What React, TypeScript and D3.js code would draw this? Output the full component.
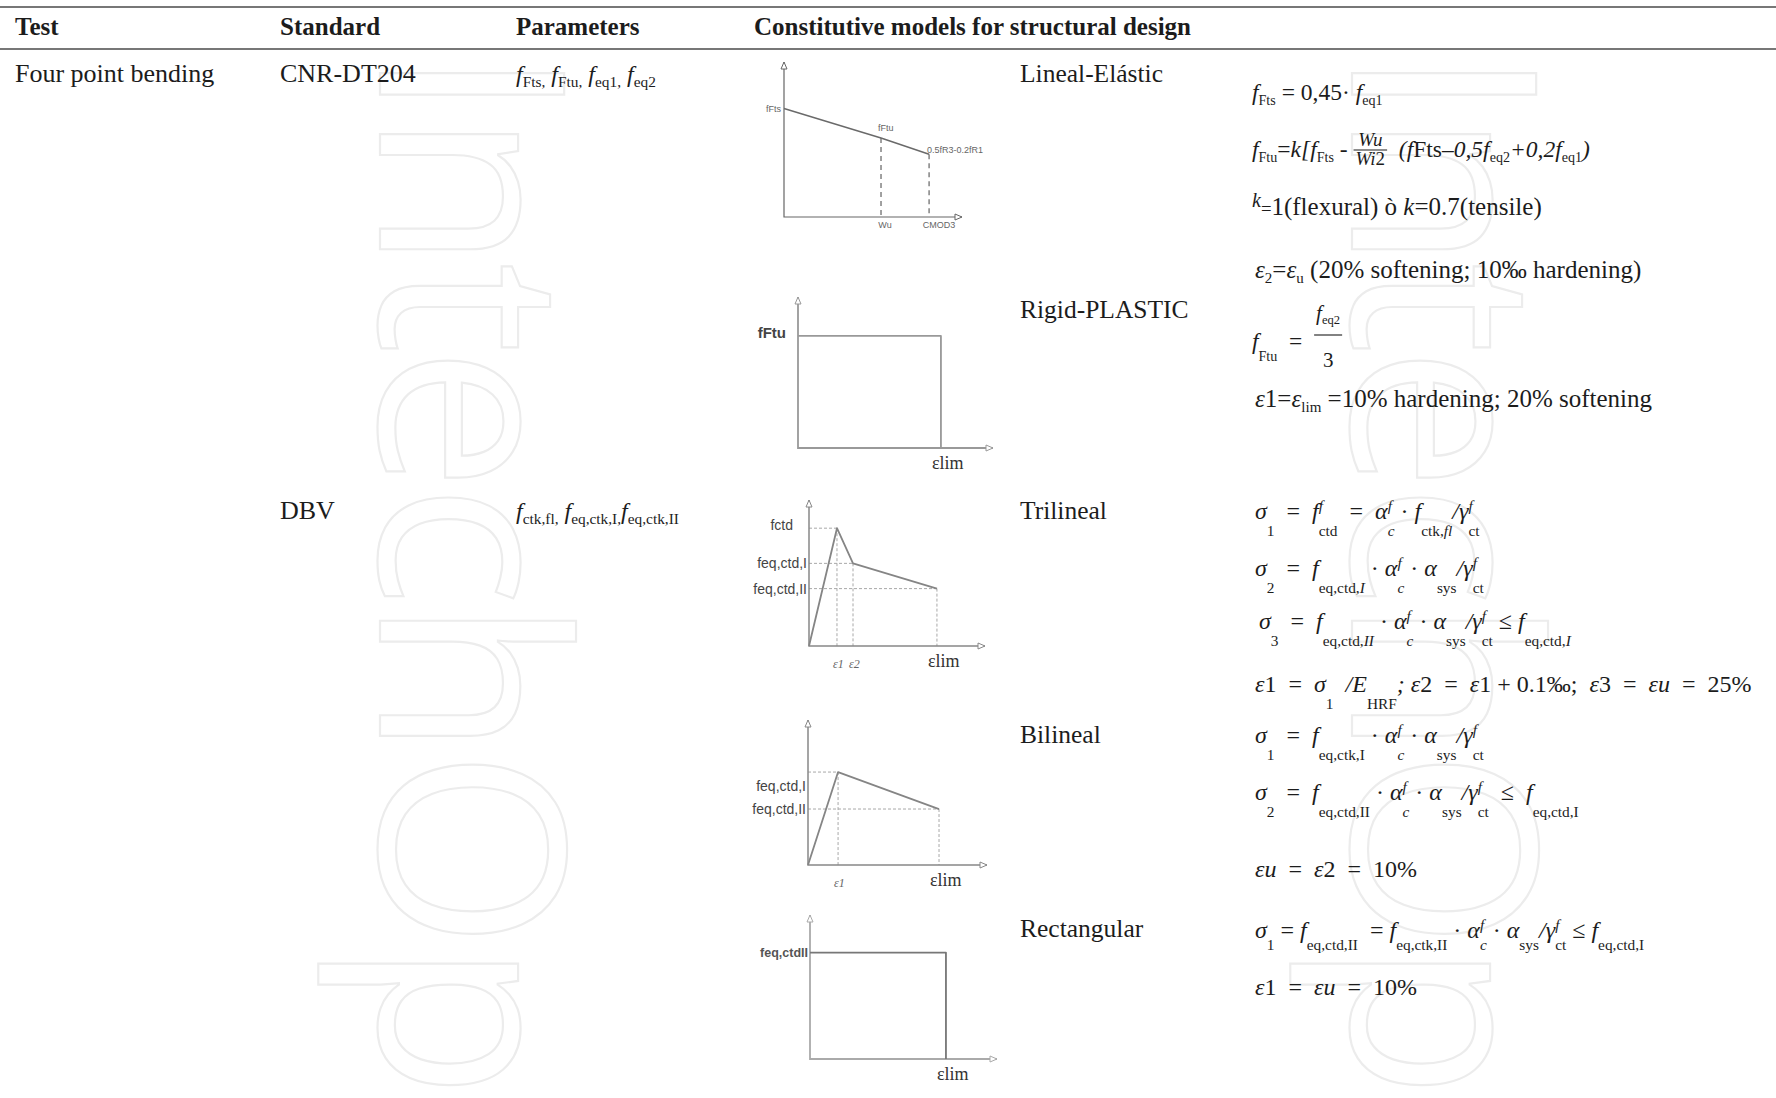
import { useEffect, useRef } from "react";
import * as d3 from "d3";

const WIDTH = 1776;
const HEIGHT = 1098;
const SERIF = "'Liberation Serif', 'Times New Roman', serif";
const SANS = "'Liberation Sans', Arial, sans-serif";
const INK = "#1c1c1c";

type Tok =
  | string
  | { i: string }
  | { sub: string; it?: boolean }
  | { sup: string; sub?: string; subIt?: boolean }
  | { frac: [Tok[], Tok[]] }
  | { small: string }
  | { raised: string }
  | { gap: number };

// ---- table text ----
const headers = ["Test", "Standard", "Parameters", "Constitutive models for structural design"];
const headerX = [15, 280, 516, 754];
const tests = ["Four point bending"];
const standards = ["CNR-DT204", "DBV"];
const rowY = [82, 519];
const modelNames = ["Lineal-Elástic", "Rigid-PLASTIC", "Trilineal", "Bilineal", "Rectangular"];
const modelY = [82, 318, 519, 743, 937];

const paramsCNR: Tok[] = [
  { i: "f" }, { sub: "Fts," }, " ", { i: "f" }, { sub: "Ftu," }, " ",
  { i: "f" }, { sub: "eq1," }, " ", { i: "f" }, { sub: "eq2" },
];
const paramsDBV: Tok[] = [
  { i: "f" }, { sub: "ctk,fl," }, " ", { i: "f" }, { sub: "eq,ctk,I," }, { i: "f" }, { sub: "eq,ctk,II" },
];

// ---- constitutive diagrams: stress s vs strain e, as fraction of the drawn axes ----
const linealPts = [{ e: 0, s: 0.70 }, { e: 0.545, s: 0.51 }, { e: 0.815, s: 0.405 }];
const linealLabels = ["fFts", "fFtu", "0.5fR3-0.2fR1"];
const linealTicks = ["Wu", "CMOD3"];

const rigidPts = [{ e: 0, s: 0.742 }, { e: 0.733, s: 0.742 }, { e: 0.733, s: 0 }];
const rigidYLabels = ["fFtu"];
const rigidXLabels = ["εlim"];

const triPts = [{ e: 0, s: 0 }, { e: 0.159, s: 0.807 }, { e: 0.25, s: 0.566 }, { e: 0.727, s: 0.393 }];
const triYLabels = ["fctd", "feq,ctd,I", "feq,ctd,II"];
const triXLabels = ["ε1", "ε2", "εlim"];

const biPts = [{ e: 0, s: 0 }, { e: 0.168, s: 0.641 }, { e: 0.732, s: 0.386 }];
const biYLabels = ["feq,ctd,I", "feq,ctd,II"];
const biXLabels = ["ε1", "εlim"];

const rectPts = [{ e: 0, s: 0.739 }, { e: 0.727, s: 0.739 }, { e: 0.727, s: 0 }];
const rectYLabels = ["feq,ctdII"];
const rectXLabels = ["εlim"];

// ---- formulas ----
const cnr = { fs: 25, drop: 5, rise: 9, ss: 0.6 };
const dbv = { fs: 24, drop: 17, rise: 8, ss: 0.64 };

const linealFormulas = [
  { ...cnr, fs: 23.5, x: 1252, y: 100, toks: [{ i: "f" }, { sub: "Fts" }, " = 0,45· ", { i: "f" }, { sub: "eq1" }] },
  {
    ...cnr, fs: 23.5, x: 1252, y: 157, fracFs: 19, fracDrop: 4, barOff: -7, numOff: -4, denOff: 15,
    toks: [
      { i: "f" }, { sub: "Ftu" }, "=", { i: "k[f" }, { sub: "Fts" }, " - ",
      { frac: [[{ i: "Wu" }], [{ i: "Wi" }, "2"]] }, "  ",
      { i: "(f" }, "Fts", { i: "–0,5f" }, { sub: "eq2" }, { i: "+0,2f" }, { sub: "eq1" }, { i: ")" },
    ],
  },
  { ...cnr, x: 1252, y: 215, toks: [{ raised: "k" }, { small: "=" }, "1(flexural) ò ", { i: "k" }, "=0.7(tensile)"] },
  { ...cnr, x: 1255, y: 278, toks: [{ i: "ε" }, { sub: "2" }, "=", { i: "ε" }, { sub: "u" }, " (20% softening; 10‰ hardening)"] },
];
const rigidFormulas = [
  {
    ...cnr, fs: 23.5, x: 1252, y: 349, drop: 12, fracFs: 21, fracDrop: 4, barOff: -14, numOff: -15, denOff: 32,
    toks: [{ i: "f" }, { sub: "Ftu" }, "  =  ", { frac: [[{ i: "f" }, { sub: "eq2" }], ["3"]] }],
  },
  { ...cnr, x: 1255, y: 407, toks: [{ i: "ε" }, "1=", { i: "ε" }, { sub: "lim" }, " =10% hardening; 20% softening"] },
];
const triFormulas = [
  {
    ...dbv, x: 1255, y: 519,
    toks: [
      { i: "σ" }, { sub: "1" }, "  =  ", { i: "f" }, { sup: "f", sub: "ctd" }, "  =  ",
      { i: "α" }, { sup: "f", sub: "c", subIt: true }, " · ", { i: "f" }, { sub: "ctk," }, { sub: "fl", it: true },
      { i: "/γ" }, { sup: "f", sub: "ct" },
    ],
  },
  {
    ...dbv, x: 1255, y: 576,
    toks: [
      { i: "σ" }, { sub: "2" }, "  =  ", { i: "f" }, { sub: "eq,ctd," }, { sub: "I", it: true }, " · ",
      { i: "α" }, { sup: "f", sub: "c", subIt: true }, " · ", { i: "α" }, { sub: "sys" }, { i: "/γ" }, { sup: "f", sub: "ct" },
    ],
  },
  {
    ...dbv, x: 1259, y: 629,
    toks: [
      { i: "σ" }, { sub: "3" }, "  =  ", { i: "f" }, { sub: "eq,ctd," }, { sub: "II", it: true }, " · ",
      { i: "α" }, { sup: "f", sub: "c", subIt: true }, " · ", { i: "α" }, { sub: "sys" }, { i: "/γ" }, { sup: "f", sub: "ct" },
      " ≤ ", { i: "f" }, { sub: "eq,ctd," }, { sub: "I", it: true },
    ],
  },
  {
    ...dbv, x: 1255, y: 692,
    toks: [
      { i: "ε" }, "1  =  ", { i: "σ" }, { sub: "1" }, "  ", { i: "/E" }, { sub: "HRF" }, { i: "; ε" }, "2  =  ",
      { i: "ε" }, "1 + 0.1‰;  ", { i: "ε" }, "3  =  ", { i: "εu" }, "  =  25%",
    ],
  },
];
const biFormulas = [
  {
    ...dbv, x: 1255, y: 743,
    toks: [
      { i: "σ" }, { sub: "1" }, "  =  ", { i: "f" }, { sub: "eq,ctk,I" }, " · ",
      { i: "α" }, { sup: "f", sub: "c", subIt: true }, " · ", { i: "α" }, { sub: "sys" }, { i: "/γ" }, { sup: "f", sub: "ct" },
    ],
  },
  {
    ...dbv, x: 1255, y: 800,
    toks: [
      { i: "σ" }, { sub: "2" }, "  =  ", { i: "f" }, { sub: "eq,ctd,II" }, " · ",
      { i: "α" }, { sup: "f", sub: "c", subIt: true }, " · ", { i: "α" }, { sub: "sys" }, { i: "/γ" }, { sup: "f", sub: "ct" },
      "  ≤  ", { i: "f" }, { sub: "eq,ctd,I" },
    ],
  },
  { ...dbv, x: 1255, y: 877, toks: [{ i: "εu" }, "  =  ", { i: "ε" }, "2  =  10%"] },
];
const rectFormulas = [
  {
    ...dbv, x: 1255, y: 938, drop: 12,
    toks: [
      { i: "σ" }, { sub: "1" }, " = ", { i: "f" }, { sub: "eq,ctd,II" }, "  = ", { i: "f" }, { sub: "eq,ctk,II" }, " · ",
      { i: "α" }, { sup: "f", sub: "c", subIt: true }, " · ", { i: "α" }, { sub: "sys" }, { i: "/γ" }, { sup: "f", sub: "ct" },
      " ≤ ", { i: "f" }, { sub: "eq,ctd,I" },
    ],
  },
  { ...dbv, x: 1255, y: 995, toks: [{ i: "ε" }, "1  =  ", { i: "εu" }, "  =  10%"] },
];

function layoutToks(g: any, toks: Tok[], x: number, y: number, o: any): number {
  let cx = x;
  const put = (txt: string, px: number, py: number, size: number, italic: boolean) => {
    const t = g.append("text")
      .attr("x", px)
      .attr("y", py)
      .attr("font-size", size)
      .attr("font-style", italic ? "italic" : "normal")
      .attr("xml:space", "preserve")
      .style("white-space", "pre")
      .text(txt);
    return (t.node() as SVGTextElement).getComputedTextLength();
  };
  toks.forEach((tok: any) => {
    if (typeof tok === "string") cx += put(tok, cx, y, o.fs, false);
    else if ("i" in tok) cx += put(tok.i, cx, y, o.fs, true);
    else if ("gap" in tok) cx += tok.gap;
    else if ("small" in tok) cx += put(tok.small, cx, y, o.fs * 0.75, false);
    else if ("raised" in tok) cx += put(tok.raised, cx, y - 8, o.fs * 0.8, true);
    else if ("frac" in tok) {
      const inner = { ...o, fs: o.fracFs, drop: o.fracDrop };
      const gn = g.append("g");
      const wn = layoutToks(gn, tok.frac[0], 0, 0, inner);
      const gd = g.append("g");
      const wd = layoutToks(gd, tok.frac[1], 0, 0, inner);
      const w = Math.max(wn, wd) + 4;
      const by = y + o.barOff;
      gn.attr("transform", `translate(${cx + (w - wn) / 2},${by + o.numOff})`);
      gd.attr("transform", `translate(${cx + (w - wd) / 2},${by + o.denOff})`);
      g.append("line")
        .attr("x1", cx).attr("x2", cx + w)
        .attr("y1", by).attr("y2", by)
        .attr("stroke", INK).attr("stroke-width", 1.1);
      cx += w;
    } else if ("sup" in tok) {
      const w1 = put(tok.sup, cx, y - o.rise, o.fs * o.ss, true);
      const w2 = tok.sub ? put(tok.sub, cx, y + o.drop, o.fs * o.ss, !!tok.subIt) : 0;
      cx += Math.max(w1, w2);
    } else if ("sub" in tok) cx += put(tok.sub, cx, y + o.drop, o.fs * o.ss, !!tok.it);
  });
  return cx - x;
}

// draws axes with small open arrow heads, the model curve and its guides
function drawDiagram(svg: any, cfg: any) {
  const { box, pts } = cfg;
  const x = d3.scaleLinear().domain([0, 1]).range([box.x, box.x + box.w]);
  const y = d3.scaleLinear().domain([0, 1]).range([box.y, box.y - box.h]);
  const g = svg.append("g");

  // guides
  cfg.guides.forEach((idx: number) => {
    const p = pts[idx];
    if (cfg.hGuides) {
      g.append("line")
        .attr("x1", x(0)).attr("x2", x(p.e))
        .attr("y1", y(p.s)).attr("y2", y(p.s))
        .attr("stroke", cfg.guideColor).attr("stroke-width", 1)
        .attr("stroke-dasharray", cfg.guideDash);
    }
    g.append("line")
      .attr("x1", x(p.e)).attr("x2", x(p.e))
      .attr("y1", y(p.s)).attr("y2", y(0))
      .attr("stroke", cfg.guideColor).attr("stroke-width", cfg.guideWidth || 1)
      .attr("stroke-dasharray", cfg.guideDash);
  });

  // axes
  g.append("path")
    .attr("d", `M${x(0)},${y(1)}L${x(0)},${y(0)}L${x(1)},${y(0)}`)
    .attr("fill", "none").attr("stroke", cfg.axisColor).attr("stroke-width", cfg.axisWidth);
  g.append("path")
    .attr("d", `M${x(0) - 3},${y(1) + 7}L${x(0)},${y(1)}L${x(0) + 3},${y(1) + 7}Z`)
    .attr("fill", "#fff").attr("stroke", cfg.axisColor).attr("stroke-width", 1);
  g.append("path")
    .attr("d", `M${x(1) - 7},${y(0) - 3}L${x(1)},${y(0)}L${x(1) - 7},${y(0) + 3}Z`)
    .attr("fill", "#fff").attr("stroke", cfg.axisColor).attr("stroke-width", 1);

  // curve
  const line = d3.line<any>().x((d) => x(d.e)).y((d) => y(d.s));
  g.append("path")
    .attr("d", line(pts))
    .attr("fill", "none").attr("stroke", cfg.curveColor).attr("stroke-width", cfg.curveWidth)
    .attr("stroke-linejoin", "round");

  // stress labels on the left
  (cfg.yLabels || []).forEach((t: string, k: number) => {
    const p = pts[cfg.yIdx[k]];
    g.append("text")
      .attr("x", x(0) - 2 + (cfg.yDx ? cfg.yDx[k] : 0))
      .attr("y", y(p.s) + (cfg.yDy ? cfg.yDy[k] : 0))
      .attr("dy", "0.35em").attr("text-anchor", "end")
      .attr("font-family", SANS).attr("font-size", cfg.yFs).attr("font-weight", cfg.yBold ? 700 : 400)
      .attr("fill", cfg.labelColor).text(t);
  });
  // strain labels below the axis
  (cfg.xLabels || []).forEach((t: string, k: number) => {
    const p = pts[cfg.xIdx[k]];
    const isLim = t === "εlim";
    g.append("text")
      .attr("x", isLim ? x(p.e) - 9 : x(p.e) - 4)
      .attr("y", y(0) + (isLim ? 21 : 22))
      .attr("font-family", SERIF)
      .attr("font-style", isLim ? "normal" : "italic")
      .attr("font-size", isLim ? 18 : 12)
      .attr("fill", isLim ? "#333" : "#666").text(t);
  });
  return { g, x, y };
}

export default function App() {
  const ref = useRef<SVGSVGElement>(null);

  useEffect(() => {
    document.body.style.margin = "0";
    const svg = d3.select(ref.current);
    svg.selectAll("*").remove();

    svg.append("rect").attr("width", WIDTH).attr("height", HEIGHT).attr("fill", "#fff");

    // publisher watermark, runs off the bottom edge as in the source page
    [380, 1352].forEach((wx) => {
      svg.append("text")
        .attr("transform", `translate(${wx},48) rotate(90)`)
        .attr("font-family", "'Open Sans', sans-serif")
        .attr("font-size", 258)
        .attr("font-weight", 400)
        .attr("letter-spacing", -8)
        .attr("fill", "none")
        .attr("stroke", "#ececec")
        .attr("stroke-width", 2.2)
        .text("IntechOpen");
    });

    // rules
    [7, 49].forEach((ry) => {
      svg.append("line")
        .attr("x1", 0).attr("x2", WIDTH).attr("y1", ry).attr("y2", ry)
        .attr("stroke", "#4a4a4a").attr("stroke-width", 1.6);
    });

    const txt = svg.append("g").attr("font-family", SERIF).attr("fill", INK);
    headers.forEach((h, k) => {
      txt.append("text").attr("x", headerX[k]).attr("y", 35)
        .attr("font-size", 25).attr("font-weight", 700).text(h);
    });
    txt.append("text").attr("x", headerX[0]).attr("y", rowY[0]).attr("font-size", 26).text(tests[0]);
    standards.forEach((s, k) => {
      txt.append("text").attr("x", headerX[1]).attr("y", rowY[k]).attr("font-size", 26).text(s);
    });
    modelNames.forEach((m, k) => {
      txt.append("text").attr("x", 1020).attr("y", modelY[k]).attr("font-size", 25.5).text(m);
    });

    const fg = svg.append("g").attr("font-family", SERIF).attr("fill", INK);
    layoutToks(fg, paramsCNR, headerX[2], rowY[0], { fs: 24, drop: 5, rise: 8, ss: 0.64 });
    layoutToks(fg, paramsDBV, headerX[2], rowY[1], { fs: 24, drop: 5, rise: 8, ss: 0.64 });
    [...linealFormulas, ...rigidFormulas, ...triFormulas, ...biFormulas, ...rectFormulas].forEach((f: any) => {
      layoutToks(fg, f.toks, f.x, f.y, f);
    });

    // diagrams
    const lin = drawDiagram(svg, {
      box: { x: 784, y: 217, w: 178, h: 155 }, pts: linealPts,
      guides: [1, 2], hGuides: false, guideColor: "#555", guideDash: "5,4", guideWidth: 1.1,
      axisColor: "#666", axisWidth: 1.2, curveColor: "#6a6a6a", curveWidth: 1.5,
    });
    lin.g.append("text").attr("x", lin.x(0) - 3).attr("y", lin.y(linealPts[0].s)).attr("dy", "0.35em")
      .attr("text-anchor", "end").attr("font-family", SANS).attr("font-size", 9).attr("fill", "#666").text(linealLabels[0]);
    lin.g.append("text").attr("x", lin.x(linealPts[1].e) - 3).attr("y", lin.y(linealPts[1].s) - 7)
      .attr("font-family", SANS).attr("font-size", 9).attr("fill", "#666").text(linealLabels[1]);
    lin.g.append("text").attr("x", lin.x(linealPts[2].e) - 2).attr("y", lin.y(linealPts[2].s) - 1)
      .attr("font-family", SANS).attr("font-size", 9).attr("fill", "#666").text(linealLabels[2]);
    linealTicks.forEach((t, k) => {
      const p = linealPts[k + 1];
      lin.g.append("text").attr("x", lin.x(p.e) + (k === 0 ? 4 : 10)).attr("y", lin.y(0) + 11)
        .attr("text-anchor", "middle").attr("font-family", SANS).attr("font-size", 9).attr("fill", "#666").text(t);
    });

    drawDiagram(svg, {
      box: { x: 798, y: 448, w: 195, h: 151 }, pts: rigidPts, guides: [],
      axisColor: "#999", axisWidth: 1.8, curveColor: "#999", curveWidth: 1.8,
      yLabels: rigidYLabels, yIdx: [0], yFs: 15, yBold: true, yDy: [-3], yDx: [-10], labelColor: "#444",
      xLabels: rigidXLabels, xIdx: [2],
    });

    drawDiagram(svg, {
      box: { x: 809, y: 646, w: 176, h: 146 }, pts: triPts,
      guides: [1, 2, 3], hGuides: true, guideColor: "#a8a8a8", guideDash: "3,2",
      axisColor: "#888", axisWidth: 1.5, curveColor: "#858585", curveWidth: 1.8,
      yLabels: triYLabels, yIdx: [1, 2, 3], yFs: 14, yBold: false, yDx: [-14, 0, 0], yDy: [-3, 0, 0], labelColor: "#444",
      xLabels: triXLabels, xIdx: [1, 2, 3],
    });

    drawDiagram(svg, {
      box: { x: 808, y: 865, w: 179, h: 145 }, pts: biPts,
      guides: [1, 2], hGuides: true, guideColor: "#a8a8a8", guideDash: "3,2",
      axisColor: "#888", axisWidth: 1.5, curveColor: "#858585", curveWidth: 1.8,
      yLabels: biYLabels, yIdx: [1, 2], yFs: 14, yBold: false, yDy: [14, 0], labelColor: "#444",
      xLabels: biXLabels, xIdx: [1, 2],
    });

    drawDiagram(svg, {
      box: { x: 810, y: 1059, w: 187, h: 144 }, pts: rectPts, guides: [],
      axisColor: "#aaa", axisWidth: 1.8, curveColor: "#777", curveWidth: 1.8,
      yLabels: rectYLabels, yIdx: [0], yFs: 12.5, yBold: true, labelColor: "#555",
      xLabels: rectXLabels, xIdx: [2],
    });
  }, []);

  return <svg ref={ref} width={WIDTH} height={HEIGHT} style={{ display: "block" }} />;
}
